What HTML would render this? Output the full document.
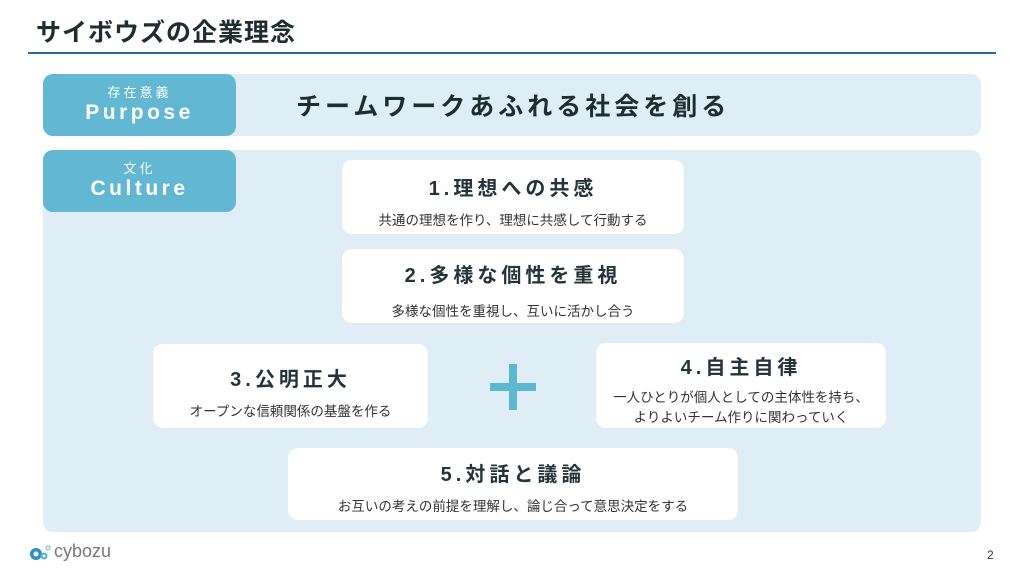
<!DOCTYPE html>
<html><head><meta charset="utf-8"><style>
*{margin:0;padding:0;box-sizing:border-box}
body{width:1024px;height:576px;background:#fff;position:relative;overflow:hidden;font-family:"Liberation Sans","Noto Sans CJK JP",sans-serif;color:#1f2d33}
.a{position:absolute}
.lbl{background:#62b8d3;border-radius:10px;color:#fff;text-align:center}
.box{background:#fff;border-radius:10px;text-align:center}
.h{font-weight:bold;font-size:20px;letter-spacing:4px;color:#24343a}
.s{font-size:13.5px;color:#333}
</style></head><body>
<div class="a" style="left:36px;top:13px;font-size:25px;font-weight:bold;letter-spacing:1px;color:#1f2d33">サイボウズの企業理念</div>
<div class="a" style="left:28px;top:52px;width:968px;height:2px;background:#1f6fa3"></div>

<div class="a" style="left:43px;top:74px;width:938px;height:62px;background:#dfeef6;border-radius:10px"></div>
<div class="a lbl" style="left:43px;top:74px;width:193px;height:62px">
<div style="font-size:13px;letter-spacing:3px;margin-top:8px">存在意義</div>
<div style="font-size:21px;font-weight:bold;letter-spacing:3.5px;margin-top:0px">Purpose</div></div>
<div class="a" style="left:296px;top:87px;font-size:25px;font-weight:bold;letter-spacing:4px">チームワークあふれる社会を創る</div>

<div class="a" style="left:43px;top:150px;width:938px;height:382px;background:#dfeef6;border-radius:10px"></div>
<div class="a lbl" style="left:43px;top:150px;width:193px;height:62px">
<div style="font-size:13px;letter-spacing:3px;margin-top:8px">文化</div>
<div style="font-size:21px;font-weight:bold;letter-spacing:3.5px">Culture</div></div>

<div class="a box" style="left:342px;top:160px;width:342px;height:74px"><div class="h" style="margin-top:12px">1.理想への共感</div><div class="s" style="margin-top:8px">共通の理想を作り、理想に共感して行動する</div></div>
<div class="a box" style="left:342px;top:249px;width:342px;height:74px"><div class="h" style="margin-top:10px">2.多様な個性を重視</div><div class="s" style="margin-top:12px">多様な個性を重視し、互いに活かし合う</div></div>
<div class="a box" style="left:153px;top:344px;width:275px;height:84px"><div class="h" style="margin-top:19px">3.公明正大</div><div class="s" style="margin-top:8px">オープンな信頼関係の基盤を作る</div></div>
<div class="a box" style="left:596px;top:343px;width:290px;height:85px"><div class="h" style="margin-top:8px">4.自主自律</div><div class="s" style="margin-top:8px;line-height:20px">一人ひとりが個人としての主体性を持ち、<br>よりよいチーム作りに関わっていく</div></div>
<div class="a box" style="left:288px;top:448px;width:450px;height:72px"><div class="h" style="margin-top:10px">5.対話と議論</div><div class="s" style="margin-top:8px">お互いの考えの前提を理解し、論じ合って意思決定をする</div></div>

<div class="a" style="left:490px;top:383px;width:46px;height:8px;background:#5bb8d0"></div>
<div class="a" style="left:509px;top:364px;width:8px;height:46px;background:#5bb8d0"></div>

<svg class="a" style="left:28px;top:543px" width="24" height="20"><circle cx="8" cy="11" r="6" fill="#2e8fc8"/><circle cx="8" cy="11" r="2.5" fill="#fff"/><circle cx="16" cy="13" r="3.5" fill="#5bb8d0"/><circle cx="16" cy="13" r="1.3" fill="#fff"/><circle cx="20" cy="5" r="2" fill="none" stroke="#5bb8d0" stroke-width="1"/></svg>
<div class="a" style="left:54px;top:541px;font-size:18px;color:#777">cybozu</div>
<div class="a" style="left:987px;top:548px;font-size:12px;color:#333">2</div>
</body></html>
